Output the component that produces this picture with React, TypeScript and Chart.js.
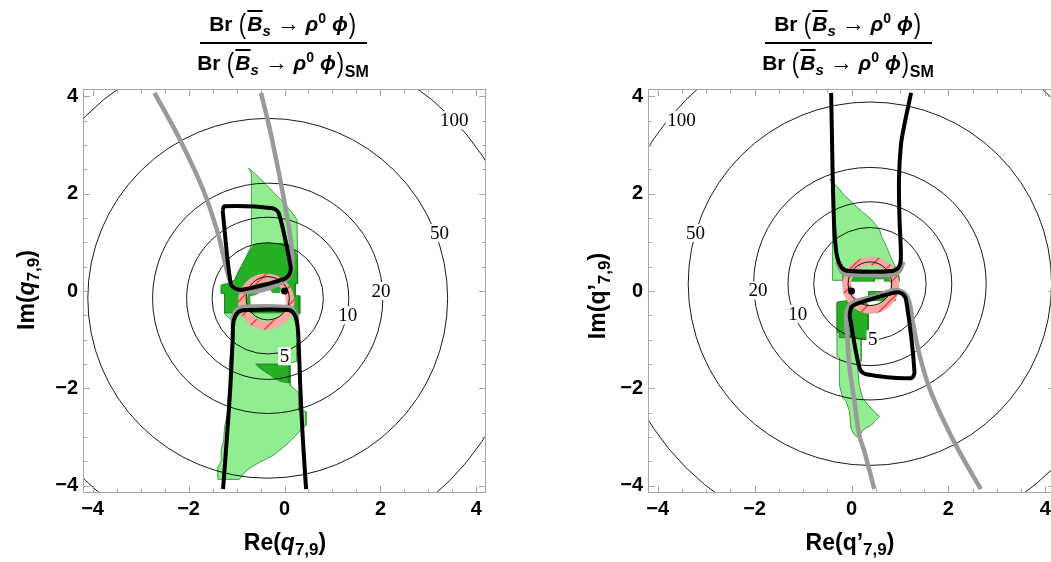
import React, { useEffect, useRef } from 'react';
import { Chart, registerables } from 'chart.js';
Chart.register(...registerables);

type P = [number, number];

// ---------- axes ----------
const AXIS_TICKS = [-4, -2, 0, 2, 4];
const MINOR_TICKS = [-4, -3.5, -3, -2.5, -2, -1.5, -1, -0.5, 0, 0.5, 1, 1.5, 2, 2.5, 3, 3.5, 4];
const X_RANGE = [-4.2, 4.2];
const Y_RANGE = [-4.15, 4.15];

// ---------- contours (ratio to SM) ----------
const CONTOUR_TEXT = ['', '5', '10', '20', '50', '100'];
const CONTOUR_RADII = [0.45, 1.16, 1.69, 2.4, 3.75, 5.37];
const RING_RADII = [0.41, 0.59];
const SM_POINT: P = [0, 0];

// ---------- left panel ----------
const L_CENTER: P = [-0.35, -0.15];
const L_LABEL_POS: P[] = [[0, 0], [0.0, -1.34], [1.32, -0.5], [2.01, 0.0], [3.23, 1.19], [3.54, 3.51]];
const L_RING_CENTER: P = [-0.38, -0.22];
const L_LIGHT: P[] = [
  [-0.75, 2.52], [-0.62, 2.42], [-0.5, 2.3], [-0.38, 2.18], [-0.25, 2.05], [-0.12, 1.92], [0.0, 1.8], [0.1, 1.68], [0.18, 1.58], [0.26, 1.47],
  [0.28, 0.15], [0.22, 0.15], [0.22, -0.1], [0.32, -0.1], [0.32, -0.47], [0.28, -0.5], [0.28, -1.0], [0.25, -1.1], [0.25, -1.45], [0.12, -1.48],
  [0.12, -1.95], [0.2, -2.0], [0.3, -2.1], [0.3, -2.45], [0.45, -2.48], [0.45, -2.76],
  [0.35, -2.84], [0.24, -2.96], [0.14, -3.06], [0.03, -3.17], [-0.1, -3.27], [-0.24, -3.38], [-0.38, -3.45], [-0.52, -3.52], [-0.66, -3.6], [-0.8, -3.69], [-0.94, -3.87],
  [-1.39, -3.87], [-1.39, -3.62], [-1.32, -3.5], [-1.32, -3.25], [-1.27, -3.1], [-1.25, -2.8], [-1.18, -2.48], [-1.18, -2.2], [-1.15, -1.86], [-1.15, -1.5],
  [-1.11, -1.16], [-1.11, -0.6], [-1.25, -0.47], [-1.25, -0.05], [-1.32, -0.05], [-1.32, 0.12], [-1.2, 0.15], [-1.04, 0.22], [-0.95, 0.42], [-0.83, 0.64],
  [-0.73, 0.85], [-0.69, 0.95], [-0.69, 2.42],
];
const L_DARK_1: P[] = [
  [-0.73, 0.8], [-0.66, 0.92], [-0.55, 0.97], [0.05, 0.98], [0.12, 0.92], [0.2, 0.85], [0.27, 0.72], [0.27, 0.15], [0.22, 0.15], [0.22, -0.1],
  [0.3, -0.1], [0.3, -0.45], [-1.25, -0.45], [-1.25, -0.05], [-1.32, -0.05], [-1.32, 0.12], [-1.2, 0.15], [-1.04, 0.22], [-0.95, 0.42], [-0.83, 0.62],
];
const L_DARK_2: P[] = [[-0.6, -1.5], [0.1, -1.5], [0.1, -1.89], [-0.07, -1.86], [-0.2, -1.8], [-0.31, -1.72], [-0.42, -1.65], [-0.52, -1.58]];
const L_HOLE: P[] = [[-0.72, -0.12], [-0.55, -0.06], [-0.5, 0.02], [-0.3, 0.02], [-0.25, -0.04], [-0.1, -0.04], [-0.05, 0.08], [0.08, 0.1], [0.14, -0.08], [0.05, -0.3], [-0.2, -0.38], [-0.5, -0.36], [-0.7, -0.3]];
const L_GRAY_MAIN: P[] = [
  [-2.71, 4.07], [-2.19, 3.13], [-1.7, 2.09], [-1.39, 1.19], [-1.22, 0.5], [-1.12, 0.17], [-0.98, 0.02], [-0.8, -0.02], [-0.45, 0.02], [-0.17, 0.12],
  [0.08, 0.27], [0.16, 0.5], [0.15, 0.9], [0.04, 1.6], [-0.12, 2.44], [-0.31, 3.34], [-0.49, 4.07],
];
const L_GRAY_CAP: P[] = [[-1.1, -0.62], [-1.02, -0.42], [-0.85, -0.33], [0.05, -0.33], [0.2, -0.41], [0.27, -0.6]];
const L_BLACK_QUAD: P[] = [[-1.29, 1.66], [-1.25, 1.74], [-0.25, 1.7], [-0.12, 1.6], [0.12, 0.55], [0.12, 0.38], [0.0, 0.25], [-0.85, 0.03], [-1.0, 0.04], [-1.12, 0.15], [-1.29, 1.66]];
const L_BLACK_U: P[] = [
  [-1.28, -4.07], [-1.2, -3.0], [-1.13, -2.0], [-1.08, -1.0], [-1.06, -0.62], [-0.96, -0.43], [-0.8, -0.39], [0.08, -0.39], [0.2, -0.47], [0.27, -0.7],
  [0.3, -1.2], [0.33, -2.0], [0.38, -3.0], [0.45, -4.07],
];

// ---------- right panel ----------
const R_CENTER: P = [0.38, 0.15];
const R_LABEL_POS: P[] = [[0, 0], [0.44, -0.99], [-1.11, -0.47], [-1.93, 0.01], [-3.22, 1.19], [-3.51, 3.51]];
const R_RING_CENTER: P = [0.4, 0.12];
const R_LIGHT_UP: P[] = [
  [-0.45, 2.3], [-0.3, 2.15], [-0.15, 1.97], [0.05, 1.78], [0.25, 1.6], [0.41, 1.47], [0.5, 1.36], [0.58, 1.26], [0.62, 1.12], [0.68, 1.0],
  [0.75, 0.85], [0.82, 0.67], [0.9, 0.5], [0.9, 0.38], [-0.05, 0.22], [-0.39, 0.22], [-0.39, 2.22],
];
const R_LIGHT_LOW: P[] = [
  [-0.3, -0.23], [0.05, -0.2], [0.34, -0.47], [0.34, -0.96], [0.2, -0.99], [0.2, -1.44], [0.13, -1.61], [0.16, -1.93], [0.23, -2.2], [0.34, -2.34],
  [0.47, -2.48], [0.58, -2.58], [0.5, -2.66], [0.41, -2.76], [0.27, -2.83], [0.13, -3.0], [0.06, -2.96], [-0.01, -2.83], [-0.04, -2.48], [-0.11, -2.27],
  [-0.18, -2.2], [-0.25, -1.93], [-0.25, -1.37], [-0.3, -1.34],
];
const R_DARK_UP: P[] = [[-0.18, 0.36], [0.95, 0.36], [0.98, 0.3], [0.98, 0.19], [0.68, 0.19], [0.68, 0.25], [0.47, 0.25], [0.47, 0.19], [-0.18, 0.19]];
const R_DARK_LOW: P[] = [[-0.3, -0.23], [0.0, -0.18], [0.25, -0.2], [0.41, -0.35], [0.34, -0.47], [0.34, -0.96], [-0.25, -0.96], [-0.25, -0.85], [-0.3, -0.85]];
const R_HOLE: P[] = [[-0.02, 0.19], [0.82, 0.19], [0.86, 0.05], [0.86, -0.01], [0.35, -0.01], [0.35, -0.08], [0.12, -0.12], [0.0, -0.2], [-0.1, -0.05]];
const R_DARK_IN: P[] = [[0.35, -0.01], [0.9, -0.01], [0.9, -0.2], [0.35, -0.2]];
const R_GRAY_MAIN: P[] = [
  [0.47, -4.07], [0.27, -3.31], [0.16, -2.96], [0.06, -2.27], [-0.04, -1.58], [-0.09, -0.9], [-0.11, -0.5], [-0.05, -0.3], [0.12, -0.2], [0.5, -0.1],
  [0.9, 0.02], [1.1, -0.05], [1.2, -0.25], [1.26, -0.61], [1.4, -1.3], [1.61, -2.0], [1.88, -2.62], [2.23, -3.31], [2.67, -4.07],
];
const R_GRAY_CAP: P[] = [[-0.3, 0.6], [-0.18, 0.37], [0.0, 0.34], [0.85, 0.34], [1.0, 0.42], [1.07, 0.6]];
const R_BLACK_U: P[] = [
  [-0.42, 4.07], [-0.4, 3.0], [-0.38, 2.0], [-0.35, 1.2], [-0.3, 0.72], [-0.2, 0.48], [-0.05, 0.41], [0.85, 0.41], [0.98, 0.5], [1.02, 0.7],
  [0.99, 1.5], [0.98, 2.3], [1.02, 3.0], [1.09, 3.41], [1.23, 4.07],
];
const R_BLACK_QUAD: P[] = [[-0.04, -0.5], [0.0, -0.33], [0.15, -0.25], [0.9, -0.03], [1.05, -0.06], [1.13, -0.2], [1.3, -1.66], [1.23, -1.79], [0.3, -1.71], [0.17, -1.6], [-0.04, -0.5]];

// ---------- styles ----------
const SANS = '"Liberation Sans", Arial, Helvetica, sans-serif';
const SERIF = '"Liberation Serif", "Times New Roman", serif';
const LIGHT_GREEN = '#90ee90';
const LIGHT_EDGE = '#4a9a4a';
const DARK_GREEN = '#26b026';
const DARK_EDGE = '#1d7d1d';
const GRAY = '#9a9a9a';
const FRAME = '#a8a8a8';

function makeHatch(): CanvasPattern | string {
  const c = document.createElement('canvas');
  c.width = 18; c.height = 18;
  const g = c.getContext('2d');
  if (!g) return '#f6a6a0';
  g.fillStyle = '#f6a8a2';
  g.fillRect(0, 0, 18, 18);
  g.strokeStyle = '#ff3030';
  g.lineWidth = 1.3;
  g.beginPath();
  g.moveTo(-2, 20); g.lineTo(20, -2);
  g.moveTo(-11, 11); g.lineTo(11, -11);
  g.moveTo(7, 29); g.lineTo(29, 7);
  g.stroke();
  return g.createPattern(c, 'repeat') || '#f6a6a0';
}

const pts = (a: P[]) => a.map(([x, y]) => ({ x, y }));

function clipArea(ctx: CanvasRenderingContext2D, a: any) {
  ctx.beginPath();
  ctx.rect(a.left, a.top, a.right - a.left, a.bottom - a.top);
  ctx.clip();
}

const panelPlugin = {
  id: 'panelDecor',
  beforeDatasetDraw(chart: any, args: any) {
    const ds = chart.data.datasets[args.index];
    if (!ds.polyFill) return;
    const els = args.meta.data;
    if (!els.length) return;
    const { ctx, chartArea: a } = chart;
    ctx.save();
    clipArea(ctx, a);
    ctx.beginPath();
    els.forEach((p: any, i: number) => (i ? ctx.lineTo(p.x, p.y) : ctx.moveTo(p.x, p.y)));
    ctx.closePath();
    ctx.fillStyle = ds.polyFill;
    ctx.fill();
    ctx.restore();
  },
  afterDatasetDraw(chart: any, args: any) {
    const ds = chart.data.datasets[args.index];
    if (!ds.ringRadii && !ds.circleRadii) return;
    const { ctx, chartArea: a, scales } = chart;
    const el = args.meta.data[0];
    if (!el) return;
    const u = Math.abs(scales.x.getPixelForValue(1) - scales.x.getPixelForValue(0));
    ctx.save();
    clipArea(ctx, a);
    if (ds.ringRadii) {
      ctx.beginPath();
      ctx.arc(el.x, el.y, ds.ringRadii[1] * u, 0, Math.PI * 2);
      ctx.arc(el.x, el.y, ds.ringRadii[0] * u, 0, Math.PI * 2, true);
      ctx.fillStyle = ds.ringFill;
      ctx.fill();
    }
    if (ds.circleRadii) {
      ctx.strokeStyle = '#000';
      ctx.lineWidth = 0.9;
      ds.circleRadii.forEach((r: number) => {
        ctx.beginPath();
        ctx.arc(el.x, el.y, r * u, 0, Math.PI * 2);
        ctx.stroke();
      });
      ctx.font = '19px ' + SERIF;
      ctx.textAlign = 'center';
      ctx.textBaseline = 'middle';
      (ds.contourLabels || []).forEach((l: any) => {
        if (!l.text) return;
        const px = scales.x.getPixelForValue(l.x);
        const py = scales.y.getPixelForValue(l.y);
        const w = ctx.measureText(l.text).width;
        ctx.fillStyle = '#fff';
        ctx.fillRect(px - w / 2 - 1.5, py - 9, w + 3, 18);
        ctx.fillStyle = '#000';
        ctx.fillText(l.text, px, py + 1);
      });
    }
    ctx.restore();
  },
  afterDatasetsDraw(chart: any) {
    const { ctx, chartArea: a, scales } = chart;
    ctx.save();
    ctx.strokeStyle = FRAME;
    ctx.lineWidth = 1;
    ctx.strokeRect(Math.round(a.left) + 0.5, Math.round(a.top) + 0.5, Math.round(a.right - a.left) - 1, Math.round(a.bottom - a.top) - 1);
    ctx.beginPath();
    MINOR_TICKS.forEach((v) => {
      const len = AXIS_TICKS.includes(v) ? 7 : 4;
      const px = Math.round(scales.x.getPixelForValue(v)) + 0.5;
      ctx.moveTo(px, a.bottom); ctx.lineTo(px, a.bottom - len);
      ctx.moveTo(px, a.top); ctx.lineTo(px, a.top + len);
      const py = Math.round(scales.y.getPixelForValue(v)) + 0.5;
      ctx.moveTo(a.left, py); ctx.lineTo(a.left + len, py);
      ctx.moveTo(a.right, py); ctx.lineTo(a.right - len, py);
    });
    ctx.stroke();
    ctx.restore();
  },
};

interface PanelSpec {
  center: P;
  labelPos: P[];
  ringCenter: P;
  lights: P[][];
  darks: P[][];
  holes: P[][];
  afterHoles: P[][];
  grays: P[][];
  blacks: P[][];
  axisWidth: number;
  padRight: number;
}

const LEFT_SPEC: PanelSpec = {
  center: L_CENTER, labelPos: L_LABEL_POS, ringCenter: L_RING_CENTER,
  lights: [L_LIGHT], darks: [L_DARK_1, L_DARK_2], holes: [L_HOLE], afterHoles: [],
  grays: [L_GRAY_MAIN, L_GRAY_CAP], blacks: [L_BLACK_QUAD, L_BLACK_U],
  axisWidth: 83, padRight: 39,
};
const RIGHT_SPEC: PanelSpec = {
  center: R_CENTER, labelPos: R_LABEL_POS, ringCenter: R_RING_CENTER,
  lights: [R_LIGHT_UP, R_LIGHT_LOW], darks: [R_DARK_UP, R_DARK_LOW], holes: [R_HOLE], afterHoles: [R_DARK_IN],
  grays: [R_GRAY_MAIN, R_GRAY_CAP], blacks: [R_BLACK_U, R_BLACK_QUAD],
  axisWidth: 123, padRight: 10,
};

const fmt = (v: any) => (Number(v) < 0 ? '\u2212' + Math.abs(Number(v)) : String(v));

function buildConfig(spec: PanelSpec, hatch: any) {
  const ds: any[] = [];
  const poly = (a: P[], fill: string, edge: string, w: number) => ({
    type: 'scatter', data: pts([...a, a[0]]), polyFill: fill, showLine: w > 0, borderColor: edge, borderWidth: w,
    pointRadius: 0, tension: 0, clip: 0,
  });
  spec.lights.forEach((a) => ds.push(poly(a, LIGHT_GREEN, LIGHT_EDGE, 1)));
  spec.darks.forEach((a) => ds.push(poly(a, DARK_GREEN, DARK_EDGE, 0.8)));
  spec.holes.forEach((a) => ds.push(poly(a, '#ffffff', '#ffffff', 0)));
  spec.afterHoles.forEach((a) => ds.push(poly(a, DARK_GREEN, DARK_EDGE, 0.8)));
  // hatched ring (annulus around its centre)
  ds.push({ type: 'scatter', data: pts([spec.ringCenter]), pointRadius: 0, clip: 0, ringRadii: RING_RADII, ringFill: hatch });
  // contour circles with labels
  ds.push({
    type: 'scatter', data: pts([spec.center]), pointRadius: 0, clip: 0, circleRadii: CONTOUR_RADII,
    contourLabels: CONTOUR_TEXT.map((t, i) => ({ text: t, x: spec.labelPos[i][0], y: spec.labelPos[i][1] })),
  });
  spec.grays.forEach((a) => ds.push({ type: 'scatter', data: pts(a), showLine: true, borderColor: GRAY, borderWidth: 4.5, pointRadius: 0, tension: 0.3, clip: 0, borderJoinStyle: 'round' }));
  spec.blacks.forEach((a) => ds.push({ type: 'scatter', data: pts(a), showLine: true, borderColor: '#000', borderWidth: 4, pointRadius: 0, tension: 0.3, clip: 0, borderJoinStyle: 'round' }));
  ds.push({ type: 'scatter', data: pts([SM_POINT]), pointRadius: 3.5, backgroundColor: '#000', borderWidth: 0, clip: 0 });
  ds.forEach((d, i) => { d.order = ds.length - i; });

  const tickFont = { family: SANS, weight: 'bold', size: 20 };
  return {
    type: 'scatter',
    data: { datasets: ds },
    plugins: [panelPlugin],
    options: {
      responsive: false,
      animation: false,
      events: [],
      layout: { padding: { left: 0, top: 89, right: spec.padRight, bottom: 29 } },
      plugins: { legend: { display: false }, tooltip: { enabled: false }, title: { display: false } },
      scales: {
        x: {
          type: 'linear', min: X_RANGE[0], max: X_RANGE[1],
          afterBuildTicks: (s: any) => { s.ticks = AXIS_TICKS.map((v) => ({ value: v })); },
          afterFit: (s: any) => { s.height = 40; s.paddingLeft = 0; s.paddingRight = 0; },
          grid: { display: false, drawTicks: false }, border: { display: false },
          ticks: { color: '#000', font: tickFont, padding: 4, autoSkip: false, maxRotation: 0, callback: fmt },
        },
        y: {
          type: 'linear', min: Y_RANGE[0], max: Y_RANGE[1],
          afterBuildTicks: (s: any) => { s.ticks = AXIS_TICKS.map((v) => ({ value: v })); },
          afterFit: (s: any) => { s.width = spec.axisWidth; s.paddingTop = 0; s.paddingBottom = 0; },
          grid: { display: false, drawTicks: false }, border: { display: false },
          ticks: { color: '#000', font: tickFont, padding: 5, autoSkip: false, callback: fmt },
        },
      },
    },
  };
}

function Panel({ spec, left, width }: { spec: PanelSpec; left: number; width: number }) {
  const ref = useRef<HTMLCanvasElement>(null);
  useEffect(() => {
    if (!ref.current) return;
    const chart = new Chart(ref.current, buildConfig(spec, makeHatch()) as any);
    return () => chart.destroy();
  }, [spec]);
  return <canvas ref={ref} width={width} height={562} style={{ position: 'absolute', left, top: 0, width, height: 562 }} />;
}

const Paren = ({ c }: { c: string }) => (
  <span style={{ display: 'inline-block', fontWeight: 'normal', transform: 'scale(1.05,1.35)', margin: '0 1px' }}>{c}</span>
);
const Low = ({ children, size = 15, drop = 5 }: any) => (
  <span style={{ fontSize: size, position: 'relative', top: drop }}>{children}</span>
);
const High = ({ children }: any) => <span style={{ fontSize: 14, position: 'relative', top: -8 }}>{children}</span>;

function BrExpr({ sm }: { sm?: boolean }) {
  return (
    <span style={{ whiteSpace: 'nowrap' }}>
      Br <Paren c="(" />
      <span style={{ fontStyle: 'italic', textDecoration: 'overline' }}>B</span>
      <Low>
        <i>s</i>
      </Low>{' '}
      <span style={{ fontSize: 23 }}>→</span> <i>ρ</i>
      <High>0</High> <i>ϕ</i>
      <Paren c=")" />
      {sm ? <Low size={16} drop={7}>SM</Low> : null}
    </span>
  );
}

function Fraction({ cx }: { cx: number }) {
  const common: any = { position: 'absolute', left: cx - 120, width: 240, textAlign: 'center', fontFamily: SANS, fontWeight: 'bold', fontSize: 21, lineHeight: '28px' };
  return (
    <>
      <div style={{ ...common, top: 9 }}>
        <BrExpr />
      </div>
      <div style={{ position: 'absolute', left: cx - 83, width: 167, top: 42, height: 2, background: '#000' }} />
      <div style={{ ...common, top: 48 }}>
        <BrExpr sm />
      </div>
    </>
  );
}

function AxisTitle({ cx, cy, rotate, prime }: { cx: number; cy: number; rotate?: boolean; prime?: boolean }) {
  const name = rotate ? 'Im' : 'Re';
  return (
    <div
      style={{
        position: 'absolute', left: cx - 100, top: cy - 16, width: 200, height: 32, lineHeight: '32px', textAlign: 'center',
        fontFamily: SANS, fontWeight: 'bold', fontSize: 23, transform: rotate ? 'rotate(-90deg)' : undefined, whiteSpace: 'nowrap',
      }}
    >
      {name}(
      {prime ? <span>q’</span> : <i>q</i>}
      <Low size={17} drop={5}>7,9</Low>)
    </div>
  );
}

export default function App() {
  return (
    <div style={{ position: 'fixed', left: 0, top: 0, width: 1051, height: 562, overflow: 'hidden', background: '#fff', color: '#000' }}>
      <Panel spec={LEFT_SPEC} left={0} width={525} />
      <Panel spec={RIGHT_SPEC} left={525} width={540} />
      <Fraction cx={283} />
      <Fraction cx={848} />
      <AxisTitle cx={285} cy={542} />
      <AxisTitle cx={850} cy={542} prime />
      <AxisTitle cx={26} cy={290} rotate />
      <AxisTitle cx={597} cy={296} rotate prime />
    </div>
  );
}
